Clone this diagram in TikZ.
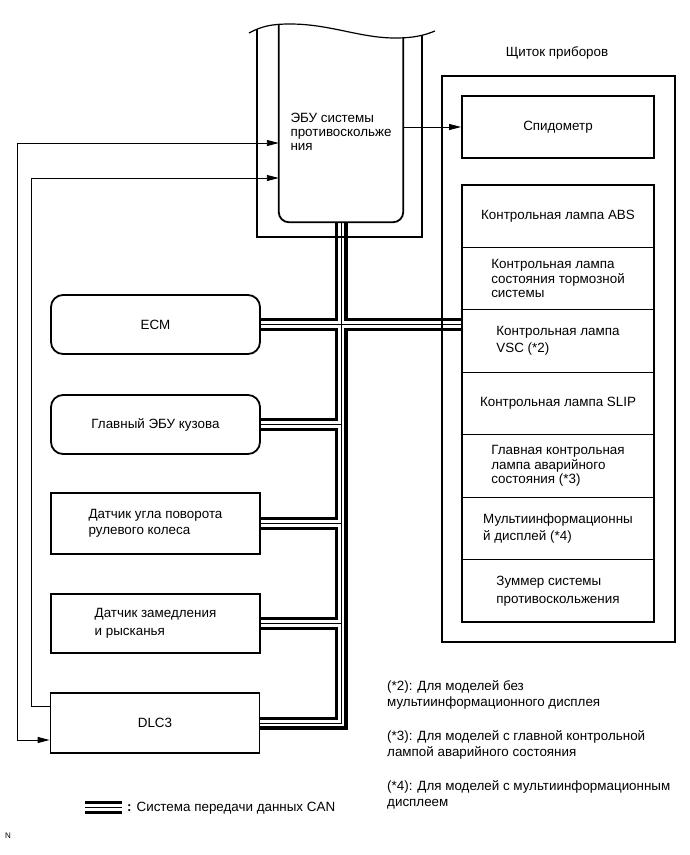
\documentclass[tikz,border=0pt]{standalone}
\usepackage{fontspec}
\setmainfont{Liberation Sans}
\usetikzlibrary{arrows.meta,calc,backgrounds}
\newcommand\dfont{\fontsize{13.4}{15}\selectfont}
\begin{document}
\begin{tikzpicture}[x=1pt,y=-1pt,
  box/.style={draw, line width=1.8pt, minimum width=209pt, minimum height=59pt, inner sep=0pt, align=left, font=\dfont, fill=white},
  rbox/.style={box, rounded corners=12pt},
  row/.style={draw, line width=1.2pt, minimum width=192pt, minimum height=62.43pt, inner sep=0pt, align=left, font=\dfont},
  frame/.style={draw, line width=1.8pt},
  sig/.style={line width=0.9pt},
  tipA/.style={-{Triangle[length=12pt,width=6pt]}},
  tipB/.style={{Triangle[length=12pt,width=6pt]}-{Triangle[length=12pt,width=6pt]}},
  lbl/.style={inner sep=0pt, align=left, font=\dfont},
]
\useasboundingbox (0,0) rectangle (690,855);

% left column units
\node[rbox] (ecm) at (155.5,324.5) {ECM};
\node[rbox] (body) at (155.5,424.5) {Главный ЭБУ кузова};
\node[box, minimum height=61pt] (steer) at (155.5,523.5) {Датчик угла поворота\\[1pt]рулевого колеса};
\node[box] (yaw) at (155.5,623.5) {Датчик замедления\\[3pt]и рысканья};
\node[box, minimum height=60pt] (dlc) at (155,723) {DLC3};

% skid control ECU
\node[minimum width=124pt, minimum height=197pt, inner sep=0pt] (ecu) at (341,123.5) {};
\node[lbl] (ecutxt) at (341,132) {ЭБУ системы\\[-1pt]противоскольже\\[-1pt]ния};
\begin{scope}
  \clip (249,33) .. controls (262,26) and (272,24) .. (290,24)
        .. controls (330,24) and (360,38) .. (395,38)
        .. controls (415,38) and (425,35) .. (435,31) -- (440,260) -- (240,260) -- cycle;
  \draw[line width=1.8pt, rounded corners=10pt] ([yshift=20pt]ecu.north west) -- (ecu.south west) -- (ecu.south east) -- ([yshift=30pt]ecu.north east);
  \draw[line width=1.8pt] (257,5) -- (257,237) -- (422,237) -- (422,5);
\end{scope}
\draw[line width=1.2pt] (249,33) .. controls (262,26) and (272,24) .. (290,24)
        .. controls (330,24) and (360,38) .. (395,38)
        .. controls (415,38) and (425,35) .. (435,31);

% combination meter
\node[lbl] (paneltitle) at (557,53) {Щиток приборов};
\node[frame, minimum width=233pt, minimum height=566pt, inner sep=0pt] (panel) at (558.5,359) {};
\node[frame, minimum width=192pt, minimum height=62pt, inner sep=0pt, font=\dfont] (speedo) at (558,127) {Спидометр};
\node[row] (abs) at (558,216.2) {Контрольная лампа ABS};
\node[row] (brake) at (558,278.6) {Контрольная лампа\\[-0.5pt]состояния тормозной\\[-0.5pt]системы};
\node[row] (vsc) at (558,341.1) {Контрольная лампа\\[2pt]VSC (*2)};
\node[row] (slip) at (558,403.5) {Контрольная лампа SLIP};
\node[row] (master) at (558,466) {Главная контрольная\\[-0.5pt]лампа аварийного\\[-0.5pt]состояния (*3)};
\node[row] (multi) at (558,528.4) {Мультиинформационны\\[2pt]й дисплей (*4)};
\node[row] (buzzer) at (558,590.8) {Зуммер системы\\[3pt]противоскольжения};
\node[frame, minimum width=192pt, minimum height=437pt, inner sep=0pt] (stack) at (558,403.5) {};

% CAN bus
\begin{scope}[on background layer]
\foreach \w/\c in {13/black,6.5/white,1/black}{
  \draw[line width=\w pt, draw=\c, line join=miter] (ecu.south) -- (ecu.south |- dlc.east) -- (dlc.east);
  \draw[line width=\w pt, draw=\c] (ecm.east) -- (ecm.east -| stack.west);
  \draw[line width=\w pt, draw=\c] (body.east) -- (body.east -| ecu.south);
  \draw[line width=\w pt, draw=\c] (steer.east) -- (steer.east -| ecu.south);
  \draw[line width=\w pt, draw=\c] (yaw.east) -- (yaw.east -| ecu.south);
}
\end{scope}

% signal lines
\coordinate (la) at (17,143);
\coordinate (lb) at (17,740);
\coordinate (lc) at (31,706);
\coordinate (ld) at (31,178);
\draw[sig, tipB] (ecu.west |- la) -- (la) -- (lb) -- (dlc.west |- lb);
\draw[sig, tipA] (dlc.west |- lc) -- (lc) -- (ld) -- (ecu.west |- ld);
\draw[sig, tipA] (ecu.east |- speedo.west) -- (speedo.west);

% notes
\node[lbl, anchor=west] (note2) at (387,695) {(*2): Для моделей без\\[1pt]мультиинформационного дисплея};
\node[lbl, anchor=west] (note3) at (387,745) {(*3): Для моделей с главной контрольной\\[1pt]лампой аварийного состояния};
\node[lbl, anchor=west] (note4) at (387,795) {(*4): Для моделей с мультиинформационным\\[1pt]дисплеем};

% legend
\coordinate (lg1) at (85,807.5);
\coordinate (lg2) at (122,807.5);
\foreach \w/\c in {13/black,6.5/white,1.6/black}{
  \draw[line width=\w pt, draw=\c] (lg1) -- (lg2);
}
\node[lbl, anchor=west] (legtxt) at (127,808) {\textbf{:} Система передачи данных CAN};

\node[inner sep=0pt, font=\fontsize{8}{9}\selectfont] (nmark) at (8,836) {N};
\end{tikzpicture}
\end{document}
